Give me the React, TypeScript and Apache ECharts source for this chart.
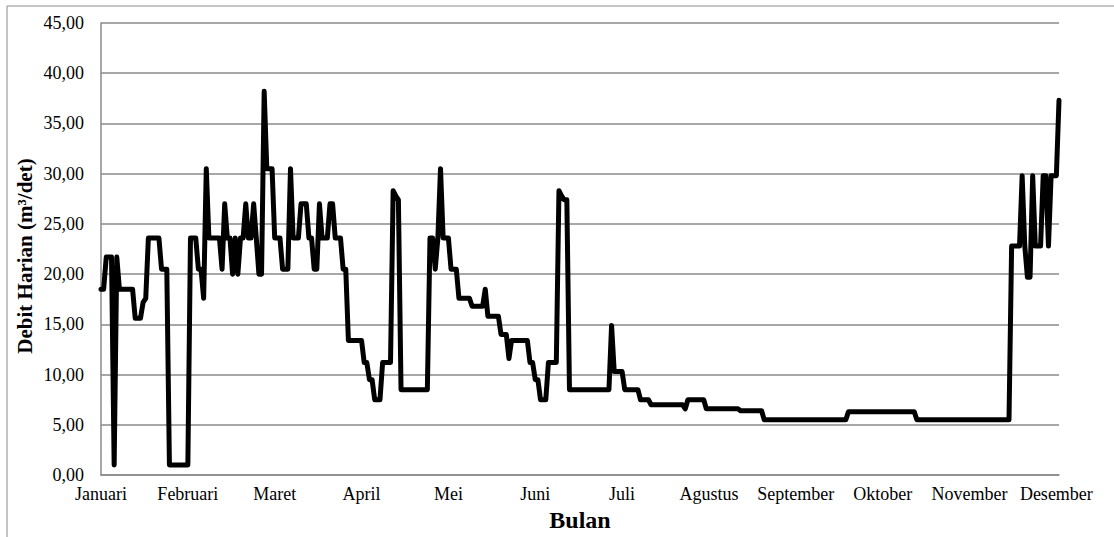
import React, { useEffect, useRef } from "react";
import * as echarts from "echarts";

const monthLabels = [
  "Januari", "Februari", "Maret", "April", "Mei", "Juni",
  "Juli", "Agustus", "September", "Oktober", "November", "Desember",
];

// daily discharge (m3/det), day 1 .. day 365
const debit = [
  18.5, 18.5, 21.7, 21.7, 21.7, 1.0, 21.7, 18.5, 18.5, 18.5,
  18.5, 18.5, 18.5, 15.6, 15.6, 15.6, 17.2, 17.6, 23.6, 23.6,
  23.6, 23.6, 23.6, 20.5, 20.5, 20.5, 1.0, 1.0, 1.0, 1.0,
  1.0, 1.0, 1.0, 1.0, 23.6, 23.6, 23.6, 20.5, 20.5, 17.6,
  30.5, 23.6, 23.6, 23.6, 23.6, 23.6, 20.5, 27.0, 23.6, 23.6,
  20.0, 23.6, 20.0, 23.6, 23.6, 27.0, 23.6, 23.6, 27.0, 23.6,
  20.0, 20.0, 38.2, 30.5, 30.5, 30.5, 23.6, 23.6, 23.6, 20.5,
  20.5, 20.5, 30.5, 23.6, 23.6, 23.6, 27.0, 27.0, 27.0, 23.6,
  23.6, 20.5, 20.5, 27.0, 23.6, 23.6, 23.6, 27.0, 27.0, 23.6,
  23.6, 23.6, 20.5, 20.5, 13.4, 13.4, 13.4, 13.4, 13.4, 13.4,
  11.2, 11.2, 9.5, 9.5, 7.5, 7.5, 7.5, 11.2, 11.2, 11.2,
  11.2, 28.3, 27.8, 27.4, 8.5, 8.5, 8.5, 8.5, 8.5, 8.5,
  8.5, 8.5, 8.5, 8.5, 8.5, 23.6, 23.6, 20.5, 23.6, 30.5,
  23.6, 23.6, 23.6, 20.5, 20.5, 20.5, 17.6, 17.6, 17.6, 17.6,
  17.6, 16.8, 16.8, 16.8, 16.8, 16.8, 18.5, 15.8, 15.8, 15.8,
  15.8, 15.8, 14.0, 14.0, 14.0, 11.6, 13.4, 13.4, 13.4, 13.4,
  13.4, 13.4, 13.4, 11.2, 11.2, 9.5, 9.5, 7.5, 7.5, 7.5,
  11.2, 11.2, 11.2, 11.2, 28.3, 27.8, 27.4, 27.4, 8.5, 8.5,
  8.5, 8.5, 8.5, 8.5, 8.5, 8.5, 8.5, 8.5, 8.5, 8.5,
  8.5, 8.5, 8.5, 8.5, 14.9, 10.3, 10.3, 10.3, 10.3, 8.5,
  8.5, 8.5, 8.5, 8.5, 8.5, 7.5, 7.5, 7.5, 7.5, 7.0,
  7.0, 7.0, 7.0, 7.0, 7.0, 7.0, 7.0, 7.0, 7.0, 7.0,
  7.0, 7.0, 6.6, 7.5, 7.5, 7.5, 7.5, 7.5, 7.5, 7.5,
  6.6, 6.6, 6.6, 6.6, 6.6, 6.6, 6.6, 6.6, 6.6, 6.6,
  6.6, 6.6, 6.6, 6.4, 6.4, 6.4, 6.4, 6.4, 6.4, 6.4,
  6.4, 6.4, 5.5, 5.5, 5.5, 5.5, 5.5, 5.5, 5.5, 5.5,
  5.5, 5.5, 5.5, 5.5, 5.5, 5.5, 5.5, 5.5, 5.5, 5.5,
  5.5, 5.5, 5.5, 5.5, 5.5, 5.5, 5.5, 5.5, 5.5, 5.5,
  5.5, 5.5, 5.5, 5.5, 6.3, 6.3, 6.3, 6.3, 6.3, 6.3,
  6.3, 6.3, 6.3, 6.3, 6.3, 6.3, 6.3, 6.3, 6.3, 6.3,
  6.3, 6.3, 6.3, 6.3, 6.3, 6.3, 6.3, 6.3, 6.3, 6.3,
  5.5, 5.5, 5.5, 5.5, 5.5, 5.5, 5.5, 5.5, 5.5, 5.5,
  5.5, 5.5, 5.5, 5.5, 5.5, 5.5, 5.5, 5.5, 5.5, 5.5,
  5.5, 5.5, 5.5, 5.5, 5.5, 5.5, 5.5, 5.5, 5.5, 5.5,
  5.5, 5.5, 5.5, 5.5, 5.5, 5.5, 22.8, 22.8, 22.8, 22.8,
  29.8, 22.8, 19.7, 19.7, 29.8, 22.8, 22.8, 22.8, 29.8, 29.8,
  22.8, 29.8, 29.8, 29.8, 37.3,
];

const labelStep = 33;
const days = debit.map((_, i) => String(i + 1));

const FONT = "'Liberation Serif', 'Times New Roman', serif";
const GRID_COLOR = "#8a8a8a";
const Y_TITLE = "Debit Harian (m³/det)";
const X_TITLE = "Bulan";

export default function App() {
  const ref = useRef<HTMLDivElement>(null);

  useEffect(() => {
    if (!ref.current) return;
    const chart = echarts.init(ref.current, null, { renderer: "svg" });
    chart.setOption({
      animation: false,
      backgroundColor: "#ffffff",
      textStyle: { fontFamily: FONT },
      graphic: [
        {
          type: "rect",
          shape: { x: 7, y: 6, width: 1200, height: 600 },
          style: { fill: "none", stroke: GRID_COLOR, lineWidth: 1 },
          silent: true,
          z: -1,
        },
        {
          type: "text",
          x: 25,
          y: 256,
          rotation: Math.PI / 2,
          style: {
            text: Y_TITLE,
            align: "center",
            verticalAlign: "middle",
            fontFamily: FONT,
            fontWeight: "bold",
            fontSize: 21,
            fill: "#000",
          },
          silent: true,
        },
      ],
      grid: { left: 101, right: 55, top: 23, bottom: 61, containLabel: false },
      xAxis: {
        type: "category",
        data: days,
        boundaryGap: false,
        name: X_TITLE,
        nameLocation: "middle",
        nameGap: 32,
        nameTextStyle: { fontFamily: FONT, fontWeight: "bold", fontSize: 24, color: "#000" },
        axisLine: { show: true, lineStyle: { color: GRID_COLOR, width: 1.5 } },
        axisTick: { show: false },
        splitLine: { show: false },
        axisLabel: {
          interval: (index: number) => index % labelStep === 0,
          formatter: (_v: string, index: number) =>
            index % labelStep === 0 ? monthLabels[index / labelStep] ?? "" : "",
          fontFamily: FONT,
          fontSize: 18,
          color: "#000",
          margin: 10,
        },
      },
      yAxis: {
        type: "value",
        min: 0,
        max: 45,
        interval: 5,
        axisLine: { show: true, lineStyle: { color: GRID_COLOR, width: 1.5 } },
        axisTick: { show: false },
        splitLine: { show: true, lineStyle: { color: GRID_COLOR, width: 1.5 } },
        axisLabel: {
          formatter: (v: number) => v.toFixed(2).replace(".", ","),
          fontFamily: FONT,
          fontSize: 18,
          color: "#000",
          margin: 17,
        },
      },
      series: [
        {
          type: "line",
          data: debit,
          symbol: "none",
          lineStyle: { color: "#000000", width: 5, join: "round", cap: "round" },
          itemStyle: { color: "#000000" },
        },
      ],
    });
    return () => chart.dispose();
  }, []);

  return (
    <div
      ref={ref}
      style={{ position: "absolute", left: 0, top: 0, width: 1114, height: 537, background: "#fff" }}
    />
  );
}
